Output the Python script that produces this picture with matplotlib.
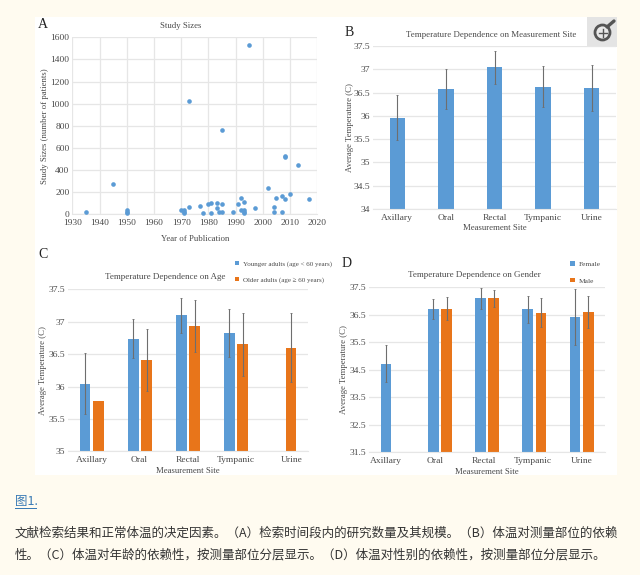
#!/usr/bin/env python3
"""Study sizes and body temperature panels, with the caption below them."""

import matplotlib

matplotlib.use("Agg")
import matplotlib.pyplot as plt
import numpy as np
from matplotlib.patches import Circle, Rectangle

W, H = 640, 575
BLUE = "#5b9bd5"
ORANGE = "#e8751a"
TEXT = "#4a4a4a"
GRID = "#e6e6e6"
PAGE = "#fffbf0"

plt.rcParams["font.family"] = ["Liberation Serif", "DejaVu Serif"]

YEARS = [1935, 1945, 1950, 1950, 1950, 1970, 1971, 1971, 1971, 1973, 1973, 1977,
         1978, 1980, 1981, 1981, 1983, 1983, 1984, 1985, 1985, 1985, 1989, 1991,
         1992, 1992, 1993, 1993, 1993, 1993, 1995, 1997, 2002, 2004, 2004, 2005,
         2007, 2007, 2008, 2008, 2008, 2010, 2013, 2017]
SIZES = [25, 275, 40, 25, 10, 35, 40, 25, 10, 70, 1020, 75,
         10, 95, 100, 15, 100, 60, 25, 95, 20, 760, 20, 90,
         150, 40, 110, 40, 20, 10, 1530, 55, 235, 70, 20, 150,
         165, 25, 135, 530, 520, 185, 450, 140]

SITES = ["Axillary", "Oral", "Rectal", "Tympanic", "Urine"]

SITE_MEAN = [35.96, 36.57, 37.04, 36.63, 36.60]
SITE_ERR = [0.48, 0.43, 0.36, 0.44, 0.50]

YOUNG_MEAN = [36.04, 36.74, 37.10, 36.82, np.nan]
YOUNG_ERR = [0.47, 0.30, 0.27, 0.37, np.nan]
OLD_MEAN = [35.77, 36.41, 36.94, 36.65, 36.60]
OLD_ERR = [np.nan, 0.48, 0.40, 0.49, 0.53]

FEMALE_MEAN = [34.72, 36.71, 37.10, 36.70, 36.41]
FEMALE_ERR = [0.67, 0.36, 0.38, 0.49, 1.01]
MALE_MEAN = [np.nan, 36.72, 37.10, 36.57, 36.60]
MALE_ERR = [np.nan, 0.41, 0.30, 0.53, 0.58]

CAPTION_LINES = [
    "文献检索结果和正常体温的决定因素。（A）检索时间段内的研究数量及其规模。（B）体温对测量部位的依赖",
    "性。（C）体温对年龄的依赖性，按测量部位分层显示。（D）体温对性别的依赖性，按测量部位分层显示。",
]


def px_axes(fig, left, top, right, bottom):
    return fig.add_axes([left / W, 1 - bottom / H, (right - left) / W, (bottom - top) / H])


def px_text(fig, x, y, s, **kw):
    kw.setdefault("color", TEXT)
    kw.setdefault("va", "center")
    return fig.text(x / W, 1 - y / H, s, **kw)


def px_rect(fig, left, top, right, bottom, color):
    fig.add_artist(Rectangle((left / W, 1 - bottom / H), (right - left) / W, (bottom - top) / H,
                             transform=fig.transFigure, facecolor=color, edgecolor="none", zorder=-1))


def style(ax, ylabel, xlabel, ytop_ticks, yticklabels, ypad=1.1, xpad=1.8):
    ax.set_facecolor("none")
    ax.set_yticks(ytop_ticks, yticklabels)
    ax.grid(axis="y", color=GRID, linewidth=0.9)
    ax.set_axisbelow(True)
    for name in ("top", "right", "left"):
        ax.spines[name].set_visible(False)
    ax.spines["bottom"].set_color(GRID)
    ax.tick_params(length=0, labelsize=6.8, labelcolor=TEXT)
    ax.tick_params(axis="y", pad=2)
    ax.tick_params(axis="x", pad=3.6)
    ax.set_ylabel(ylabel, fontsize=6.3, color=TEXT, labelpad=ypad)
    ax.set_xlabel(xlabel, fontsize=6.3, color=TEXT, labelpad=xpad)


def bars(ax, x, means, errs, width, color):
    drawn = ax.bar(x, means, width, color=color, zorder=2)
    ax.errorbar(x, means, yerr=errs, fmt="none", ecolor="#6e6e6e", elinewidth=0.8,
                capsize=1, capthick=0.6, zorder=3)
    return drawn


def legend(fig, handles, labels, x, y, size):
    fig.legend(handles, labels, loc="upper left", bbox_to_anchor=(x / W, 1 - y / H),
               frameon=False, fontsize=size, labelcolor=TEXT, handlelength=0.6,
               handleheight=0.6, handletextpad=0.6, labelspacing=1.4,
               borderpad=0, borderaxespad=0)


def main():
    fig = plt.figure(figsize=(W / 100, H / 100), dpi=100, facecolor=PAGE)

    # white card and the zoom button in its corner
    px_rect(fig, 35, 17, 617, 475, "white")
    icon = px_axes(fig, 587, 17, 617, 47)
    icon.set_facecolor("#e4e4e4")
    icon.set_xlim(0, 30)
    icon.set_ylim(30, 0)
    icon.set_xticks([])
    icon.set_yticks([])
    for spine in icon.spines.values():
        spine.set_visible(False)
    icon.plot([20, 27], [10, 4], color="#555555", linewidth=2.4, solid_capstyle="round")
    icon.add_patch(Circle((15.5, 15.5), 7.5, facecolor="#e9e9e9", edgecolor="#555555", linewidth=2))
    icon.plot([11.5, 19.5], [15.5, 15.5], color="#555555", linewidth=1)
    icon.plot([15.5, 15.5], [11.5, 19.5], color="#555555", linewidth=1)

    # A
    ax = px_axes(fig, 72.3, 37.3, 317.3, 214.3)
    ax.scatter(YEARS, SIZES, s=11, color=BLUE, zorder=3, linewidths=0, clip_on=False)
    ax.set_xlim(1930, 2020)
    ax.set_ylim(0, 1600)
    ax.set_xticks(np.arange(1930, 2021, 10))
    style(ax, "Study Sizes (number of patients)", "Year of Publication",
          np.arange(0, 1601, 200), [str(v) for v in range(0, 1601, 200)], xpad=5.5)
    ax.grid(axis="x", color=GRID, linewidth=0.9)
    px_text(fig, 181, 26, "Study Sizes", fontsize=6.3, ha="center")
    px_text(fig, 38, 24, "A", fontsize=10, color="#222222")

    # B
    ax = px_axes(fig, 373, 46, 616, 209)
    x = np.arange(len(SITES))
    bars(ax, x, SITE_MEAN, SITE_ERR, 0.32, BLUE)
    ax.set_xlim(-0.5, 4.5)
    ax.set_ylim(34, 37.5)
    ax.set_xticks(x, SITES)
    style(ax, "Average Temperature (C)", "Measurement Site", np.arange(34, 37.6, 0.5),
          ["34", "34.5", "35", "35.5", "36", "36.5", "37", "37.5"], ypad=-0.3)
    px_text(fig, 491, 35, "Temperature Dependence on Measurement Site", fontsize=6.4, ha="center")
    px_text(fig, 345, 32, "B", fontsize=10, color="#222222")

    # C
    ax = px_axes(fig, 67.7, 289.3, 308.3, 451.3)
    off = 0.14
    young = bars(ax, x - off, YOUNG_MEAN, YOUNG_ERR, 0.225, BLUE)
    old = bars(ax, x + off, OLD_MEAN, OLD_ERR, 0.225, ORANGE)
    ax.set_xlim(-0.5, 4.5)
    ax.set_ylim(35, 37.5)
    ax.set_xticks([0, 0.98, 2, 3, 4.15], SITES)
    style(ax, "Average Temperature (C)", "Measurement Site", np.arange(35, 37.6, 0.5),
          ["35", "35.5", "36", "36.5", "37", "37.5"])
    px_text(fig, 165, 277, "Temperature Dependence on Age", fontsize=6.5, ha="center")
    px_text(fig, 38, 254, "C", fontsize=10, color="#222222")
    legend(fig, [young, old], ["Younger adults (age < 60 years)", "Older adults (age ≥ 60 years)"],
           235, 261, 5.0)

    # D
    ax = px_axes(fig, 369, 287.3, 605.3, 452)
    female = bars(ax, x - off, FEMALE_MEAN, FEMALE_ERR, 0.225, BLUE)
    male = bars(ax, x + off, MALE_MEAN, MALE_ERR, 0.225, ORANGE)
    ax.set_xlim(-0.5, 4.5)
    ax.set_ylim(31.5, 37.5)
    ax.set_xticks([-0.14, 0.9, 1.93, 2.97, 4], SITES)
    style(ax, "Average Temperature (C)", "Measurement Site", np.arange(31.5, 37.6, 1),
          ["31.5", "32.5", "33.5", "34.5", "35.5", "36.5", "37.5"])
    px_text(fig, 474, 275, "Temperature Dependence on Gender", fontsize=6.5, ha="center")
    px_text(fig, 342, 263, "D", fontsize=10, color="#222222")
    legend(fig, [female, male], ["Female", "Male"], 570, 261, 5.4)

    # caption under the card
    cjk = ["Noto Sans CJK SC", "DejaVu Sans"]
    px_text(fig, 15, 502, "图1.", family=cjk, fontsize=9, color="#3a7bb5")
    px_rect(fig, 15, 508, 37, 509, "#3a7bb5")
    px_text(fig, 15, 533, CAPTION_LINES[0], family=cjk, fontsize=9.0, color="#333333")
    px_text(fig, 15, 555, CAPTION_LINES[1], family=cjk, fontsize=9.0, color="#333333")

    fig.savefig("out.png", dpi=100, facecolor=PAGE)
    plt.close(fig)


if __name__ == "__main__":
    main()
